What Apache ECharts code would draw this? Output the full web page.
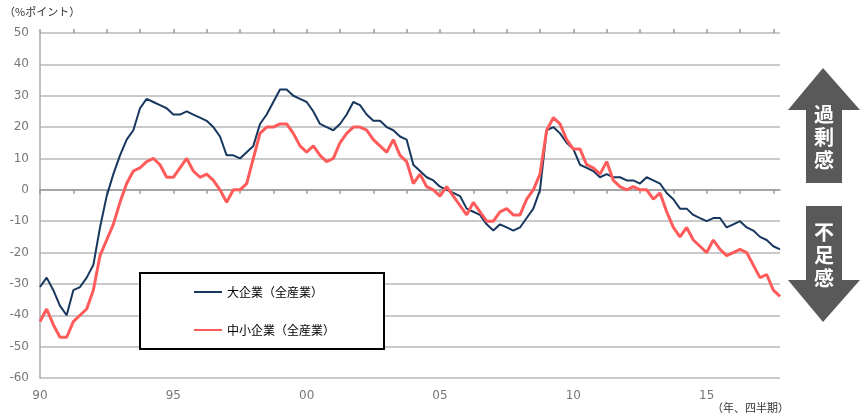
<!DOCTYPE html>
<html>
<head>
<meta charset="utf-8">
<script src="https://cdn.jsdelivr.net/npm/echarts@6/dist/echarts.min.js"></script>
<style>
  html, body { margin: 0; padding: 0; background: #fff; }
  #chart { width: 864px; height: 418px; }
</style>
</head>
<body>
<div id="chart"></div>
<script>
// Quarterly employment conditions DI, 1990Q1 - 2017Q4
const years = [];
for (let y = 1990; y <= 2017; y++) years.push(y);
const quarters = [];
years.forEach(y => { for (let q = 1; q <= 4; q++) quarters.push(y + 'Q' + q); });

const yearTickLabels = ['90', '95', '00', '05', '10', '15'];

const seriesNames = ['大企業（全産業）', '中小企業（全産業）'];

const largeFirms = [
  -31, -28, -32, -37, -40, -32, -31, -28, -24, -12,
  -2, 5, 11, 16, 19, 26, 29, 28, 27, 26,
  24, 24, 25, 24, 23, 22, 20, 17, 11, 11,
  10, 12, 14, 21, 24, 28, 32, 32, 30, 29,
  28, 25, 21, 20, 19, 21, 24, 28, 27, 24,
  22, 22, 20, 19, 17, 16, 8, 6, 4, 3,
  1, 0, -1, -2, -6, -7, -8, -11, -13, -11,
  -12, -13, -12, -9, -6, 0, 19, 20, 18, 15,
  13, 8, 7, 6, 4, 5, 4, 4, 3, 3,
  2, 4, 3, 2, -1, -3, -6, -6, -8, -9,
  -10, -9, -9, -12, -11, -10, -12, -13, -15, -16,
  -18, -19
];

const smallFirms = [
  -42, -38, -43, -47, -47, -42, -40, -38, -32, -21,
  -16, -11, -4, 2, 6, 7, 9, 10, 8, 4,
  4, 7, 10, 6, 4, 5, 3, 0, -4, 0,
  0, 2, 10, 18, 20, 20, 21, 21, 18, 14,
  12, 14, 11, 9, 10, 15, 18, 20, 20, 19,
  16, 14, 12, 16, 11, 9, 2, 5, 1, 0,
  -2, 1, -2, -5, -8, -4, -7, -10, -10, -7,
  -6, -8, -8, -3, 0, 5, 19, 23, 21, 16,
  13, 13, 8, 7, 5, 9, 3, 1, 0, 1,
  0, 0, -3, -1, -7, -12, -15, -12, -16, -18,
  -20, -16, -19, -21, -20, -19, -20, -24, -28, -27,
  -32, -34
];

const chart = echarts.init(document.getElementById('chart'), null, { renderer: 'canvas' });

const numFont = 'DejaVu Sans, sans-serif';
const jpFont = '"Noto Sans CJK JP", sans-serif';
const arrowColor = '#595959';

// tick label for every 20th quarter (every five years)
function yearLabel(value, idx) {
  return idx % 20 === 0 ? yearTickLabels[idx / 20] : '';
}

const zeroAxisBase = {
  type: 'category',
  data: quarters,
  boundaryGap: false,
  axisLabel: { show: false },
  splitLine: { show: false }
};

chart.setOption({
  animation: false,
  backgroundColor: '#ffffff',
  grid: { left: 40, right: 84, top: 33, bottom: 40, containLabel: false },
  legend: {
    orient: 'vertical',
    left: 140,
    top: 273,
    padding: [13, 49, 13, 53],
    itemGap: 26,
    itemWidth: 28,
    itemHeight: 14,
    backgroundColor: '#ffffff',
    borderColor: '#000000',
    borderWidth: 2,
    borderRadius: 0,
    itemStyle: { opacity: 0 },
    textStyle: { fontFamily: jpFont, fontSize: 12, color: '#000' },
    data: seriesNames
  },
  xAxis: [
    {
      type: 'category',
      data: quarters,
      boundaryGap: false,
      position: 'bottom',
      axisLine: { onZero: false, show: false },
      axisTick: { show: false },
      axisLabel: {
        interval: 0,
        formatter: yearLabel,
        color: '#777',
        fontFamily: numFont,
        fontSize: 12,
        margin: 12
      },
      splitLine: { show: false }
    },
    Object.assign({}, zeroAxisBase, {
      position: 'bottom',
      axisLine: { onZero: true, lineStyle: { color: '#999', width: 1.5 } },
      axisTick: { show: true, interval: (idx) => idx % 5 === 0, length: 4, lineStyle: { color: '#999', width: 1.5 } }
    }),
    Object.assign({}, zeroAxisBase, {
      position: 'top',
      axisLine: { onZero: true, show: false },
      axisTick: { show: true, interval: (idx) => idx % 5 === 0, length: 4, lineStyle: { color: '#999', width: 1.5 } }
    })
  ],
  yAxis: {
    type: 'value',
    min: -60,
    max: 50,
    interval: 10,
    axisLine: { show: true, lineStyle: { color: '#aaa', width: 1.5 } },
    axisTick: { show: false },
    axisLabel: { color: '#777', fontFamily: numFont, fontSize: 12, margin: 11 },
    splitLine: { show: true, lineStyle: { color: '#b8b8b8', width: 1.5 } }
  },
  series: [
    {
      name: seriesNames[0],
      type: 'line',
      data: largeFirms,
      symbol: 'none',
      lineStyle: { color: '#17375E', width: 2 },
      itemStyle: { color: '#17375E' },
      z: 3
    },
    {
      name: seriesNames[1],
      type: 'line',
      data: smallFirms,
      symbol: 'none',
      lineStyle: { color: '#FF5B5B', width: 3 },
      itemStyle: { color: '#FF5B5B' },
      z: 4
    }
  ],
  graphic: [
    {
      type: 'text', left: 4, top: 6,
      style: { text: '（%ポイント）', font: '11px ' + jpFont, fill: '#333' }
    },
    {
      type: 'text', left: 712, top: 402,
      style: { text: '（年、四半期）', font: '11px ' + jpFont, fill: '#333' }
    },
    {
      type: 'polygon',
      shape: { points: [[823, 68], [860, 110], [842, 110], [842, 183], [806, 183], [806, 110], [788, 110]] },
      style: { fill: arrowColor }
    },
    {
      type: 'text', x: 824, y: 137,
      style: {
        text: '過\n剰\n感', fill: '#fff', font: 'bold 20px ' + jpFont,
        lineHeight: 23, align: 'center', verticalAlign: 'middle'
      }
    },
    {
      type: 'polygon',
      shape: { points: [[806, 206], [842, 206], [842, 280], [860, 280], [823, 322], [788, 280], [806, 280]] },
      style: { fill: arrowColor }
    },
    {
      type: 'text', x: 824, y: 255,
      style: {
        text: '不\n足\n感', fill: '#fff', font: 'bold 20px ' + jpFont,
        lineHeight: 23, align: 'center', verticalAlign: 'middle'
      }
    }
  ]
});
</script>
</body>
</html>
